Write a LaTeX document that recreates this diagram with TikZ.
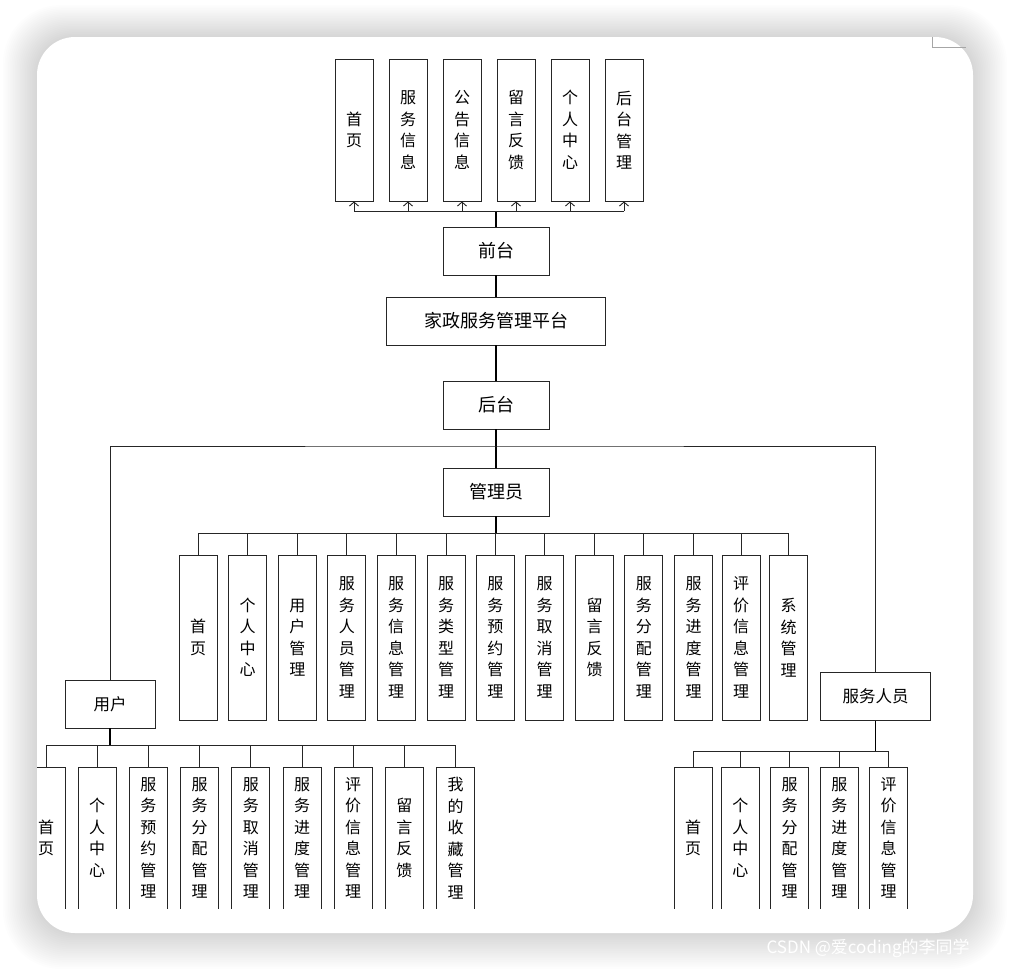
\documentclass[tikz,border=0pt]{standalone}
\usepackage{fontspec}
\newfontfamily\cjk{Noto Sans CJK SC}
\usetikzlibrary{arrows.meta}

\tikzset{
  box/.style={draw=black!85, line width=0.9pt, fill=white, minimum height=48pt,
    inner sep=0pt, font=\cjk\fontsize{18}{22}\selectfont},
  vbox/.style={draw=black!85, line width=0.9pt, minimum width=38pt, inner sep=0pt,
    align=center, font=\cjk\fontsize{16}{21.5}\selectfont},
  link/.style={draw=black!85, line width=0.9pt},
  trunk/.style={draw=black, line width=1.6pt},
}

\begin{document}
\begin{tikzpicture}[x=1pt,y=-1pt]
  \fill[white] (0,0) rectangle (1010,970);
  \useasboundingbox (0,0) rectangle (1010,970);
  % card with its shadow
  \begin{scope}
  \foreach \k in {1,...,20}
    \fill[black,opacity=0.0095,rounded corners=38+\k] (37-\k*1.7,37-\k*1.6) rectangle (973+\k*1.7,933+\k*1.8);
  \end{scope}
  \fill[white,rounded corners=38] (37,37) rectangle (973,933);
  \node[anchor=west,text=white,font=\cjk\fontsize{17}{20}\selectfont] (mark) at (763,948) {CSDN @爱coding的李同学};

  \begin{scope}
  \clip (37,37) rectangle (973,908);
  \draw[gray!70,line width=1pt] (932,37) -- (932,47) -- (966,47);

  % middle column
  \node[box,minimum width=106] (qt) at (496,251) {前台};
  \node[box,minimum width=219] (pt) at (496,321) {家政服务管理平台};
  \node[box,minimum width=106] (ht) at (496,405) {后台};
  \node[box,minimum width=106] (gl) at (496,492) {管理员};
  \node[box,minimum width=90,font=\cjk\fontsize{16.5}{20}\selectfont] (yh) at (110,704) {用户};
  \node[box,minimum width=110,font=\cjk\fontsize{16.5}{20}\selectfont] (fw) at (875.5,696.5) {服务人员};

  % front pages
  \foreach \t [count=\i] in {首\\页,服\\务\\信\\息,公\\告\\信\\息,留\\言\\反\\馈,个\\人\\中\\心,后\\台\\管\\理}
    \node[vbox,minimum height=142] (q\i) at (354+54*\i-54,130) {\t};
  % admin pages
  \foreach \x/\t [count=\i] in {198/首\\页,247.6/个\\人\\中\\心,297.4/用\\户\\管\\理,
      346.8/服\\务\\人\\员\\管\\理,396/服\\务\\信\\息\\管\\理,446/服\\务\\类\\型\\管\\理,
      495.3/服\\务\\预\\约\\管\\理,544.7/服\\务\\取\\消\\管\\理,594.5/留\\言\\反\\馈,
      643.9/服\\务\\分\\配\\管\\理,693.5/服\\务\\进\\度\\管\\理,741/评\\价\\信\\息\\管\\理,
      788.5/系\\统\\管\\理}
    \node[vbox,minimum height=165] (a\i) at (\x,637.5) {\t};
  % user pages
  \foreach \t [count=\i] in {首\\页,个\\人\\中\\心,服\\务\\预\\约\\管\\理,服\\务\\分\\配\\管\\理,
      服\\务\\取\\消\\管\\理,服\\务\\进\\度\\管\\理,评\\价\\信\\息\\管\\理,留\\言\\反\\馈,
      我\\的\\收\\藏\\管\\理}
    \node[vbox,minimum height=142] (u\i) at (46+51.2*\i-51.2,838) {\t};
  % staff pages
  \foreach \x/\t [count=\i] in {693.2/首\\页,740.3/个\\人\\中\\心,789.7/服\\务\\分\\配\\管\\理,
      839.3/服\\务\\进\\度\\管\\理,888.7/评\\价\\信\\息\\管\\理}
    \node[vbox,minimum height=142] (s\i) at (\x,838) {\t};

  % connectors
  \coordinate (qb) at (496,211);
  \coordinate (hb) at (496,446);
  \coordinate (gb) at (496,533);
  \coordinate (yb) at (110,745);
  \coordinate (fb) at (875.5,751);

  \draw[trunk] (qt.north) -- (qb);
  \draw[link] (q1.south |- qb) -- (q6.south |- qb);
  \foreach \i in {1,...,6}
    \draw[link,-{Straight Barb[length=4pt,width=9pt]}] (q\i.south |- qb) -- (q\i.south);
  \draw[trunk] (pt.north) -- (qt.south);
  \draw[trunk] (pt.south) -- (ht.north);
  \draw[trunk] (ht.south) -- (hb) -- (gl.north);
  \draw[link] (yh.north) |- (hb) -| (fw.north);

  \draw[trunk] (gl.south) -- (gb);
  \draw[link] (a1.north |- gb) -- (a13.north |- gb);
  \foreach \i in {1,...,13}
    \draw[link] (a\i.north |- gb) -- (a\i.north);

  \draw[trunk] (yh.south) -- (yb);
  \draw[link] (u1.north |- yb) -- (u9.north |- yb);
  \foreach \i in {1,...,9}
    \draw[link] (u\i.north |- yb) -- (u\i.north);

  \draw[trunk] (fw.south) -- (fb);
  \draw[link] (s1.north |- fb) -- (s5.north |- fb);
  \foreach \i in {1,...,5}
    \draw[link] (s\i.north |- fb) -- (s\i.north);
  \end{scope}
\end{tikzpicture}
\end{document}
